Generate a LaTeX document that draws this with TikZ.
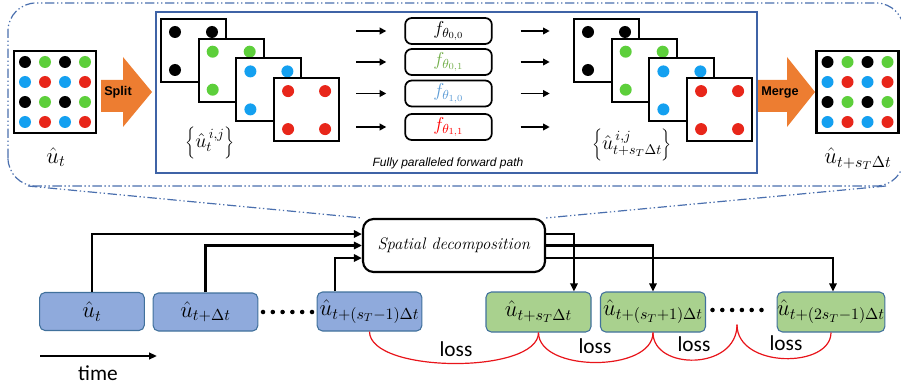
\RequirePackage{fix-cm}
\documentclass[tikz,border=0pt]{standalone}
\usepackage{fontspec}
\newfontfamily\arialfont{Liberation Sans}
\newfontfamily\calfont{Carlito}
\usetikzlibrary{arrows.meta,calc}

\definecolor{dotgreen}{HTML}{5DCF3B}
\definecolor{dotblue}{HTML}{14A0F0}
\definecolor{dotred}{HTML}{E8261A}
\definecolor{frameblue}{HTML}{4A6FAE}
\definecolor{panelblue}{HTML}{3F63A6}
\definecolor{boxblue}{HTML}{8FAADC}
\definecolor{boxgreen}{HTML}{A9D18E}
\definecolor{edgeblue}{HTML}{41719C}
\definecolor{arroworange}{HTML}{ED7D31}
\definecolor{fgreen}{HTML}{70AD47}
\definecolor{fblue}{HTML}{5B9BD5}
\definecolor{fred}{HTML}{FF0000}
\definecolor{lossred}{HTML}{E8141A}

\tikzset{
  gridbox/.style={draw, line width=1.6pt, fill=white, inner sep=0pt},
  % 4x4 field with all four sub-lattices
  pics/fullgrid/.style={code={
    \node[gridbox, minimum width=61.5pt, minimum height=61.5pt] (-box) at (0,0) {};
    \foreach \r/\ca/\cb in {-30/black/dotgreen,-10/dotblue/dotred,10/black/dotgreen,30/dotblue/dotred}{
      \foreach \c/\cc in {-30/\ca,-10/\cb,10/\ca,30/\cb}
        \fill[fill=\cc] (\c,\r) circle (4.5pt);
    }
  }},
  % one sub-lattice of the field
  pics/subgrid/.style={code={
    \node[gridbox, minimum width=48.75pt, minimum height=47.25pt] (-box) at (0,0) {};
    \foreach \dx/\dy in {-18.5/-18.5,18.5/-18.5,-18.5/19.5,18.5/19.5}
      \fill[fill=#1] (\dx,\dy) circle (4.5pt);
  }},
  fbox/.style={draw, line width=1.3pt, rounded corners=5pt, minimum width=65pt,
    minimum height=19.5pt, inner sep=0pt, font=\fontsize{14}{16}\selectfont},
  fwd/.style={line width=1.4pt, -{Triangle[length=5pt,width=5pt]}},
  conn/.style={line width=1.6pt, -{Triangle[length=6pt,width=5.5pt]}},
  frame/.style={frameblue, line width=0.9pt,
    dash pattern=on 7pt off 2pt on 1pt off 2pt on 1pt off 2pt},
  stepblue/.style={draw=edgeblue, fill=boxblue, line width=0.8pt, rounded corners=4pt,
    minimum width=78.5pt, minimum height=28.5pt, inner sep=0pt,
    font=\fontsize{17}{19}\selectfont},
  stepgreen/.style={stepblue, fill=boxgreen, minimum width=78.75pt, minimum height=30pt},
  mathlbl/.style={font=\fontsize{17}{19}\selectfont, inner sep=0pt},
  losscurve/.style={lossred, line width=0.9pt},
  losslbl/.style={font=\calfont\fontsize{16}{18}\selectfont, inner sep=0pt},
  bigarrow/.style={fill=arroworange},
  arrowlbl/.style={font=\arialfont\bfseries\fontsize{9.5}{11}\selectfont, inner sep=0pt},
}

\begin{document}
\begin{tikzpicture}[x=0.75pt,y=-0.75pt]
\useasboundingbox (0,0) rectangle (901,385);

% ---------------- detail panel ----------------
\draw[frame, rounded corners=21pt] (8,186) -- (8,3) -- (904,3) -- (904,186) -- cycle;
\draw[panelblue, line width=1.1pt] (156,12) rectangle (757,173);

% input field and split arrow
\pic (gin) at (55,92) {fullgrid};
\node[mathlbl] (lin) at (56,157) {$\hat{u}_t$};
\fill[bigarrow] (101,80) -- (123,80) -- (123,57) -- (152,92) -- (123,127) -- (123,112) -- (101,112) -- cycle;
\node[arrowlbl] (split) at (118,92) {Split};

% sub-lattices before the networks
\pic (sa1) at (193.5,50.5) {subgrid=black};
\pic (sa2) at (231.2,70.2) {subgrid=dotgreen};
\pic (sa3) at (268.9,89.9) {subgrid=dotblue};
\pic (sa4) at (306.6,109.6) {subgrid=dotred};
\node[mathlbl, font=\fontsize{15}{17}\selectfont] (lsa) at (210,143)
  {$\biggl\{\hat{u}_t^{\,i,j}\biggr\}$};

% parallel networks
\node[fbox] (f00) at (448.5,31) {$f_{\theta_{0,0}}$};
\node[fbox, text=fgreen] (f01) at (448.5,62) {$f_{\theta_{0,1}}$};
\node[fbox, text=fblue] (f10) at (448.5,93.5) {$f_{\theta_{1,0}}$};
\node[fbox, text=fred] (f11) at (448.5,127) {$f_{\theta_{1,1}}$};
\foreach \f in {f00,f01,f10,f11}{
  \draw[fwd] ([xshift=-36pt]\f.west) -- ([xshift=-13.5pt]\f.west);
  \draw[fwd] ([xshift=21pt]\f.east) -- ([xshift=42.75pt]\f.east);
}
\node[font=\arialfont\itshape\fontsize{9}{11}\selectfont, inner sep=0pt] (path) at (448,163)
  {Fully paralleled forward path};

% sub-lattices after the networks
\pic (sb1) at (606.5,50.5) {subgrid=black};
\pic (sb2) at (644.2,70.2) {subgrid=dotgreen};
\pic (sb3) at (681.9,89.9) {subgrid=dotblue};
\pic (sb4) at (719.6,109.6) {subgrid=dotred};
\node[mathlbl, font=\fontsize{15}{17}\selectfont] (lsb) at (632,145)
  {$\biggl\{\hat{u}^{\,i,j}_{t+s_T\Delta t}\biggr\}$};

% merge arrow and output field
\fill[bigarrow] (758,80) -- (787,80) -- (787,57) -- (815,92) -- (787,127) -- (787,112) -- (758,112) -- cycle;
\node[arrowlbl] (merge) at (780,92) {Merge};
\pic (gout) at (857.5,92) {fullgrid};
\node[mathlbl] (lout) at (858,159) {$\hat{u}_{t+s_T\Delta t}$};

% ---------------- time stepping ----------------
\node[draw, line width=1.6pt, rounded corners=8pt, fill=white, minimum width=136.5pt,
  minimum height=39.75pt, inner sep=0pt, font=\fontsize{12.5}{15}\selectfont]
  (sd) at (454,245.5) {\textit{Spatial decomposition}};

% the detail panel zooms into the decomposition block
\coordinate (fbl) at (28,186);
\coordinate (fbr) at (886,186);
\draw[frame] (fbl) -- (sd.north west);
\draw[frame] (fbr) -- (sd.north east);

\node[stepblue] (b1) at (92,311.5) {$\hat{u}_t$};
\node[stepblue] (b2) at (205.5,312) {$\hat{u}_{t+\Delta t}$};
\node[stepblue, minimum height=29.25pt] (b3) at (369.5,311.5) {$\hat{u}_{t+(s_T-1)\Delta t}$};
\node[stepgreen] (g1) at (538.5,312) {$\hat{u}_{t+s_T\Delta t}$};
\node[stepgreen] (g2) at (653,312) {$\hat{u}_{t+(s_T+1)\Delta t}$};
\node[stepgreen] (g3) at (831,312) {$\hat{u}_{t+(2s_T-1)\Delta t}$};

% ellipses between the steps
\node[minimum width=37pt, inner sep=0pt] (dots1) at (287.5,312) {};
\node[minimum width=37pt, inner sep=0pt] (dots2) at (737,310) {};
\foreach \d in {dots1,dots2}
  \foreach \k in {0,...,5}
    \fill ($(\d.center)+(\k*9.8-24.5,0)$) circle (1.7pt);

% inputs to the decomposition block
\draw[conn] (b1.north) |- ([yshift=8.6pt]sd.west);
\draw[conn] (b2.north) |- (sd.west);
\draw[conn] ([xshift=-26pt]b3.north) |- ([yshift=-9.4pt]sd.west);

% outputs of the decomposition block
\draw[conn] ([yshift=8.6pt]sd.east) -| ([xshift=26.6pt]g1.north);
\draw[conn] (sd.east) -| (g2.north);
\draw[conn] ([yshift=-9.4pt]sd.east) -| ([xshift=1.5pt]g3.north);

% loss terms between consecutive predictions
\coordinate (j) at ([yshift=-11pt]dots2.center);
\draw[losscurve] (b3.south) .. controls +(0,42) and +(0,42) .. (g1.south);
\draw[losscurve] (g1.south) .. controls +(0,40) and +(0,40) .. (g2.south);
\draw[losscurve] (g2.south) .. controls +(0,38) and +(0,46) .. (j);
\draw[losscurve] (j) .. controls +(0,44) and +(0,36) .. (g3.south);
\node[losslbl] (loss1) at (456,349) {loss};
\node[losslbl] (loss2) at (595,346) {loss};
\node[losslbl] (loss3) at (694,344) {loss};
\node[losslbl] (loss4) at (786,343) {loss};

% time axis
\coordinate (t0) at (40,356);
\coordinate (t1) at (157,356);
\draw[line width=1.6pt, -{Triangle[length=6pt,width=5pt]}] (t0) -- (t1);
\node[losslbl] (time) at (98,373) {time};
\end{tikzpicture}
\end{document}
